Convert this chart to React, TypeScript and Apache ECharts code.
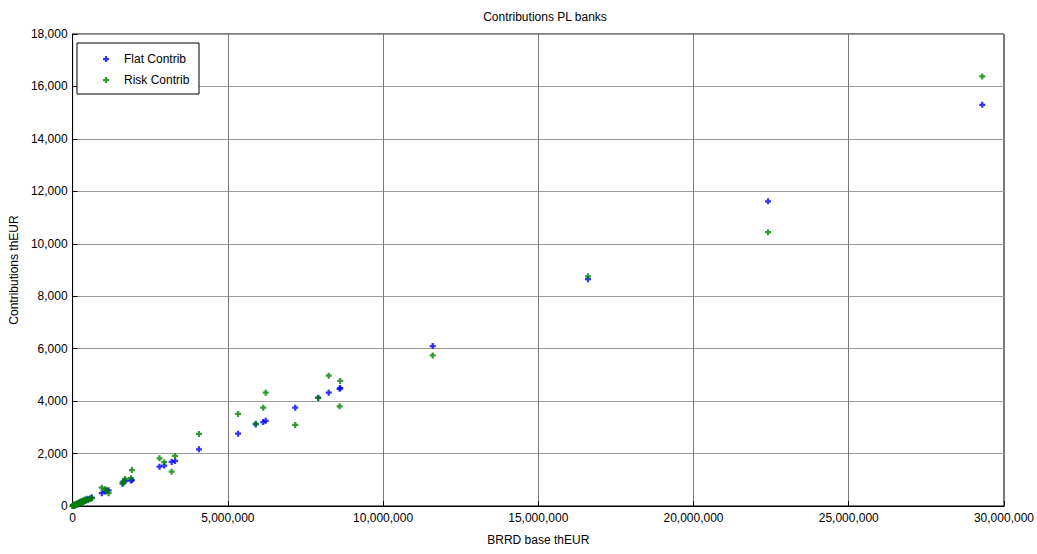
import React, { useEffect, useRef } from "react";
import * as echarts from "echarts";

// BRRD base (thEUR) per bank
const baseValues = [
  29300000, 22400000, 16600000, 11600000, 8620000, 8600000, 8250000, 7910000,
  7170000, 6220000, 6140000, 5900000, 5330000, 4070000, 3300000, 3190000,
  2950000, 2800000, 1910000, 1880000, 1690000, 1640000, 1610000, 1160000,
  1100000, 1050000, 940000, 620000, 570000, 500000, 450000, 410000, 380000,
  350000, 320000, 290000, 260000, 240000, 210000, 190000, 170000, 150000,
  130000, 110000, 95000, 80000, 70000, 60000, 50000, 40000, 35000, 25000,
  20000, 15000, 10000, 5000,
];
// Flat contributions (thEUR)
const flatValues = [
  15300, 11620, 8650, 6100, 4500, 4470, 4320, 4130,
  3750, 3250, 3200, 3110, 2760, 2160, 1720, 1680,
  1540, 1500, 990, 970, 950, 930, 850, 600,
  580, 550, 490, 322, 295, 260, 234, 213, 198,
  182, 166, 151, 135, 125, 109, 99, 88, 78,
  68, 57, 49, 42, 36, 31, 26, 21, 18, 13,
  10, 8, 5, 3,
];
// Risk-based contributions (thEUR)
const riskValues = [
  16380, 10440, 8760, 5740, 4770, 3800, 4970, 4120,
  3090, 4320, 3750, 3140, 3510, 2750, 1910, 1310,
  1670, 1820, 1370, 1060, 1030, 900, 880, 490,
  600, 640, 700, 300, 270, 220, 280, 190, 240,
  150, 200, 130, 170, 100, 140, 80, 110, 60,
  90, 45, 70, 35, 50, 25, 40, 15, 30, 20,
  8, 12, 4, 2,
];

const xTicks = { min: 0, max: 30000000, interval: 5000000 };
const yTicks = { min: 0, max: 18000, interval: 2000 };

const seriesNames = ["Flat Contrib", "Risk Contrib"];

const MARKER =
  "path://M2.5,0 L5.5,0 L5.5,2.5 L8,2.5 L8,5.5 L5.5,5.5 L5.5,8 L2.5,8 L2.5,5.5 L0,5.5 L0,2.5 L2.5,2.5 Z";

const fmt = (v: number) => Math.round(v).toLocaleString("en-US");

export default function App() {
  const ref = useRef<HTMLDivElement>(null);
  useEffect(() => {
    if (!ref.current) return;
    const chart = echarts.init(ref.current, undefined, { renderer: "svg" });
    const font = "'Liberation Sans', Arial, sans-serif";
    const flatData = baseValues.map((b, i) => [b, flatValues[i]]);
    const riskData = baseValues.map((b, i) => [b, riskValues[i]]);
    chart.setOption({
      animation: false,
      backgroundColor: "#ffffff",
      textStyle: { fontFamily: font },
      title: {
        text: "Contributions PL banks",
        left: 540,
        textAlign: "center",
        top: 6,
        textStyle: { fontSize: 12, fontWeight: "normal", color: "#000", fontFamily: font },
      },
      grid: {
        left: 71,
        right: 33,
        top: 34,
        bottom: 48,
        show: true,
        borderColor: "#000",
        borderWidth: 1,
      },
      graphic: [
        {
          type: "rect",
          z: 3,
          shape: { x: 77, y: 43, width: 122, height: 51 },
          style: { fill: "#fff", stroke: "#000", lineWidth: 1 },
        },
      ],
      legend: {
        orient: "vertical",
        left: 98,
        top: 48,
        itemGap: 9,
        itemWidth: 14,
        itemHeight: 6,
        z: 5,
        textStyle: { fontSize: 12, color: "#000", fontFamily: font, padding: [0, 0, 0, 6] },
        data: seriesNames,
      },
      xAxis: {
        type: "value",
        min: xTicks.min,
        max: xTicks.max,
        interval: xTicks.interval,
        name: "BRRD base thEUR",
        nameLocation: "middle",
        nameGap: 28,
        nameTextStyle: { fontSize: 12, color: "#000", fontFamily: font },
        axisLine: { show: true, lineStyle: { color: "#000", width: 1 } },
        axisTick: { show: true, inside: true, length: 5, lineStyle: { color: "#000" } },
        axisLabel: { color: "#000", fontSize: 12, margin: 6, formatter: fmt, fontFamily: font },
        splitLine: { show: true, lineStyle: { color: "#7a7a7a", width: 1 } },
      },
      yAxis: {
        type: "value",
        min: yTicks.min,
        max: yTicks.max,
        interval: yTicks.interval,
        name: "Contributions thEUR",
        nameLocation: "middle",
        nameGap: 50,
        nameTextStyle: { fontSize: 12, color: "#000", fontFamily: font },
        axisLine: { show: true, lineStyle: { color: "#000", width: 1 } },
        axisTick: { show: true, inside: true, length: 5, lineStyle: { color: "#000" } },
        axisLabel: { color: "#000", fontSize: 12, margin: 5, formatter: fmt, fontFamily: font },
        splitLine: { show: true, lineStyle: { color: "#9a9a9a", width: 1 } },
      },
      series: [
        {
          name: seriesNames[0],
          type: "scatter",
          symbol: MARKER,
          symbolSize: 6,
          itemStyle: { color: "#0000ff" },
          data: flatData,
        },
        {
          name: seriesNames[1],
          type: "scatter",
          symbol: MARKER,
          symbolSize: 6,
          itemStyle: { color: "#008000" },
          data: riskData,
        },
      ],
    });
    return () => chart.dispose();
  }, []);
  return (
    <div
      ref={ref}
      style={{ position: "fixed", left: 0, top: 0, width: 1037, height: 554 }}
    />
  );
}
